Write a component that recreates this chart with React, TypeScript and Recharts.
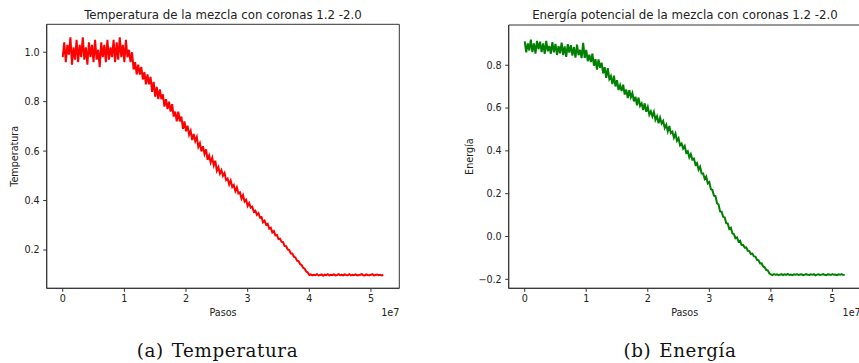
import React from 'react';
import { LineChart, Line, XAxis, YAxis, Label, ReferenceArea } from 'recharts';

// Pasos de simulación entre muestras consecutivas
const PASO = 250000;

// Temperatura de la mezcla (una muestra cada PASO pasos, de 0 a 5.2e7)
const temperatura = [
  0.98, 1.04, 0.96, 1.03, 0.99, 1.06, 0.95, 1.02, 0.97, 1.05,
  0.96, 1.03, 0.98, 1.06, 0.97, 1.02, 0.95, 1.04, 0.98, 1.03,
  0.96, 1.05, 0.97, 1.01, 0.94, 1.04, 0.98, 1.03, 0.96, 1.05,
  0.97, 1.02, 0.98, 1.05, 0.96, 1.04, 0.97, 1.06, 0.98, 1.03,
  0.96, 1.05, 0.98,
  1.01, 0.96, 1.0, 0.93, 0.96, 0.91, 0.95, 0.91, 0.94, 0.89,
  0.92, 0.87, 0.91, 0.87, 0.9, 0.84, 0.88, 0.82,
  0.86, 0.81, 0.85, 0.81, 0.83, 0.78, 0.81, 0.77, 0.8, 0.76,
  0.79, 0.74, 0.76, 0.72, 0.76, 0.72, 0.74, 0.69, 0.72, 0.68,
  0.703, 0.666, 0.682, 0.645, 0.669, 0.64, 0.657, 0.617, 0.632, 0.599,
  0.62, 0.588, 0.607, 0.565, 0.582, 0.554, 0.573, 0.542, 0.561, 0.521,
  0.535, 0.509, 0.523, 0.5, 0.511, 0.483, 0.489, 0.465, 0.481, 0.455,
  0.463, 0.438, 0.453, 0.429, 0.433, 0.408, 0.422, 0.396, 0.403, 0.378,
  0.39, 0.371, 0.375, 0.355, 0.359, 0.342, 0.349, 0.331, 0.333, 0.312,
  0.319, 0.302, 0.306, 0.286, 0.29, 0.271, 0.277, 0.259, 0.261, 0.244,
  0.246, 0.233, 0.232, 0.216, 0.215, 0.202, 0.2, 0.186, 0.186, 0.173,
  0.17, 0.157, 0.155, 0.143, 0.139, 0.128, 0.124, 0.113, 0.109, 0.099,
  0.101, 0.097, 0.1, 0.098, 0.102, 0.097, 0.099, 0.101, 0.096, 0.1,
  0.098, 0.102, 0.097, 0.1, 0.099, 0.101, 0.097, 0.099, 0.102, 0.098,
  0.1, 0.097, 0.101, 0.099, 0.098, 0.102, 0.097, 0.1, 0.098, 0.101,
  0.097, 0.099, 0.1, 0.102, 0.098, 0.097, 0.101, 0.099, 0.098, 0.1,
  0.102, 0.097, 0.099, 0.101, 0.098, 0.1, 0.097, 0.099,
];

// Energía potencial de la mezcla (mismo muestreo)
const energia = [
  0.912, 0.86, 0.902, 0.869, 0.92, 0.861, 0.902, 0.854, 0.914, 0.875,
  0.91, 0.861, 0.902, 0.853, 0.914, 0.865, 0.89, 0.854, 0.908, 0.86,
  0.9, 0.848, 0.889, 0.856, 0.906, 0.847, 0.888, 0.839, 0.899, 0.859,
  0.894, 0.845, 0.885, 0.836, 0.896, 0.847, 0.872, 0.833, 0.905, 0.834,
  0.872,
  0.819, 0.849, 0.815, 0.854, 0.798, 0.828, 0.78, 0.827, 0.788, 0.812,
  0.762, 0.791, 0.741, 0.786, 0.736, 0.75, 0.712, 0.751, 0.701, 0.73,
  0.684, 0.707, 0.68, 0.709, 0.663, 0.686, 0.647, 0.684, 0.651, 0.67,
  0.631, 0.653, 0.613, 0.649, 0.61, 0.622, 0.591, 0.622, 0.583, 0.605,
  0.569, 0.585, 0.561, 0.582, 0.545, 0.562, 0.529, 0.555, 0.528, 0.54,
  0.507, 0.522, 0.491, 0.516, 0.483, 0.49, 0.462, 0.481, 0.447, 0.459,
  0.426, 0.434, 0.411, 0.423, 0.391, 0.398, 0.369, 0.385, 0.359, 0.364,
  0.335, 0.343, 0.312, 0.326, 0.294, 0.294, 0.269, 0.28, 0.248, 0.254,
  0.221, 0.217, 0.191, 0.189, 0.155, 0.149, 0.117, 0.116, 0.092, 0.089,
  0.062, 0.06, 0.035, 0.041, 0.015, 0.011, -0.008, -0.004, -0.024, -0.02,
  -0.04, -0.04, -0.052, -0.051, -0.067, -0.068, -0.082, -0.08, -0.093, -0.094,
  -0.109, -0.111, -0.126, -0.125, -0.14, -0.144, -0.157, -0.158, -0.172, -0.177,
  -0.18, -0.176, -0.179, -0.177, -0.181, -0.178, -0.176, -0.18, -0.177, -0.179,
  -0.175, -0.18, -0.178, -0.181, -0.177, -0.179, -0.176, -0.18, -0.178, -0.177,
  -0.181, -0.178, -0.176, -0.179, -0.18, -0.177, -0.179, -0.176, -0.181, -0.178,
  -0.177, -0.18, -0.178, -0.176, -0.179, -0.181, -0.177, -0.178, -0.18, -0.176,
  -0.179, -0.178, -0.181, -0.177, -0.179, -0.176, -0.18, -0.178,
];

const ticksX = [0, 1e7, 2e7, 3e7, 4e7, 5e7];
const ticksT = [0.2, 0.4, 0.6, 0.8, 1.0];
const ticksE = [-0.2, 0.0, 0.2, 0.4, 0.6, 0.8];

const datosT = temperatura.map((v, i) => ({ pasos: i * PASO, valor: v }));
const datosE = energia.map((v, i) => ({ pasos: i * PASO, valor: v }));

const dominioX: [number, number] = [-2.6e6, 5.46e7];
const fuente = 'DejaVu Sans, sans-serif';
const ejeColor = '#333333';
const estiloTick = { fontFamily: fuente, fontSize: 9.6, fill: '#222222' };

const fmtX = (v: number) => String(Math.round(v / 1e7));
const fmtY = (v: number) => v.toFixed(1).replace('-', '\u2212');

type PanelProps = {
  datos: { pasos: number; valor: number }[];
  color: string;
  dominioY: [number, number];
  ticksY: number[];
  etiquetaY: string;
  width: number;
  margin: { top: number; right: number; bottom: number; left: number };
  anchoY: number;
  posEtiquetaY: number;
};

function Panel({ datos, color, dominioY, ticksY, etiquetaY, width, margin, anchoY, posEtiquetaY }: PanelProps) {
  return (
    <LineChart width={width} height={330} data={datos} margin={margin}>
      <XAxis
        dataKey="pasos"
        type="number"
        domain={dominioX}
        allowDataOverflow
        ticks={ticksX}
        interval={0}
        tickFormatter={fmtX}
        tick={estiloTick}
        tickSize={3.5}
        tickMargin={3.5}
        stroke={ejeColor}
        height={41.7}
      >
        <Label value="Pasos" position="insideBottom" offset={14.5} fontFamily={fuente} fontSize={9.6} fill="#222222" />
        <Label value="1e7" position="insideBottomRight" offset={14.5} dx={14.5} fontFamily={fuente} fontSize={9.6} fill="#222222" />
      </XAxis>
      <YAxis
        type="number"
        domain={dominioY}
        allowDataOverflow
        ticks={ticksY}
        interval={0}
        tickFormatter={fmtY}
        tick={estiloTick}
        tickSize={3.5}
        tickMargin={3.5}
        stroke={ejeColor}
        width={anchoY}
      >
        <Label
          value={etiquetaY}
          angle={-90}
          position="insideLeft"
          offset={posEtiquetaY}
          fontFamily={fuente}
          fontSize={9.6}
          fill="#222222"
          style={{ textAnchor: 'middle' }}
        />
      </YAxis>
      {/* marco completo de los ejes, como en matplotlib */}
      <ReferenceArea
        x1={dominioX[0]}
        x2={dominioX[1]}
        y1={dominioY[0]}
        y2={dominioY[1]}
        fill="none"
        stroke={ejeColor}
        strokeWidth={1}
        ifOverflow="visible"
      />
      <Line dataKey="valor" type="linear" stroke={color} strokeWidth={2} dot={false} isAnimationActive={false} />
    </LineChart>
  );
}

const App = () => (
  <div style={{ position: 'absolute', left: 0, top: 0, width: 859, height: 363, overflow: 'hidden', background: '#ffffff' }}>
    <div style={{ position: 'absolute', left: 0, top: 0 }}>
      <Panel
        datos={datosT}
        color="#ff0000"
        dominioY={[0.045, 1.113]}
        ticksY={ticksT}
        etiquetaY="Temperatura"
        width={430}
        margin={{ top: 24.3, right: 30.7, bottom: 0, left: 0 }}
        anchoY={46.7}
        posEtiquetaY={15}
      />
    </div>
    <div style={{ position: 'absolute', left: 430, top: 0 }}>
      <Panel
        datos={datosE}
        color="#008000"
        dominioY={[-0.242, 0.988]}
        ticksY={ticksE}
        etiquetaY="Energía"
        width={440}
        margin={{ top: 25, right: 9.3, bottom: 0, left: 0 }}
        anchoY={78.7}
        posEtiquetaY={39.3}
      />
    </div>
    <svg width={859} height={363} style={{ position: 'absolute', left: 0, top: 0, pointerEvents: 'none' }}>
      <text x={223} y={19} textAnchor="middle" fontFamily={fuente} fontSize={11.8} fill="#222222">
        Temperatura de la mezcla con coronas 1.2 -2.0
      </text>
      <text x={685} y={19} textAnchor="middle" fontFamily={fuente} fontSize={11.8} fill="#222222">
        Energía potencial de la mezcla con coronas 1.2 -2.0
      </text>
      <text x={217.5} y={356.7} textAnchor="middle" fontFamily="DejaVu Serif, serif" fontSize={18.3} letterSpacing={0.6} fill="#111111">
        <tspan>(a)</tspan>
        <tspan dx={8}>Temperatura</tspan>
      </text>
      <text x={680} y={356.7} textAnchor="middle" fontFamily="DejaVu Serif, serif" fontSize={18.3} letterSpacing={0.6} fill="#111111">
        <tspan>(b)</tspan>
        <tspan dx={8}>Energía</tspan>
      </text>
    </svg>
  </div>
);

export default App;
